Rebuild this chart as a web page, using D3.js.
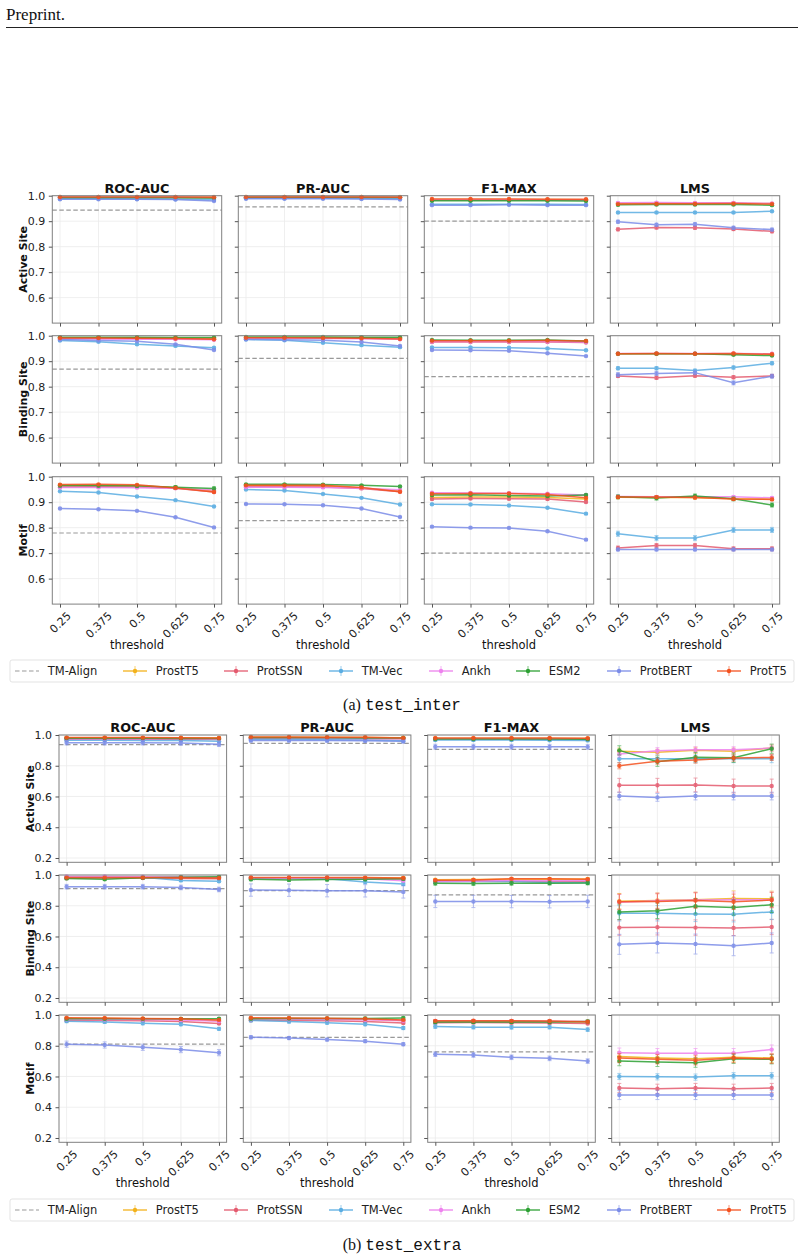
<!DOCTYPE html>
<html>
<head>
<meta charset="utf-8">
<script src="https://cdn.jsdelivr.net/npm/d3@7"></script>
<style>
  body { margin: 0; background: #fff; }
  text { font-family: "DejaVu Sans", sans-serif; }
</style>
</head>
<body>
<script>
// thresholds on the x axis, shared by every panel
const thresholds = [0.25, 0.375, 0.5, 0.625, 0.75];
const models = ["ProstT5", "ProtSSN", "TM-Vec", "Ankh", "ESM2", "ProtBERT", "ProtT5"];
const metrics = ["ROC-AUC", "PR-AUC", "F1-MAX", "LMS"];
const tasks = ["Active Site", "Binding Site", "Motif"];
const colors = {
    "ProstT5": "#f3b21b", "ProtSSN": "#e45a6e", "TM-Vec": "#5aade2", "Ankh": "#ee82ee",
    "ESM2": "#2ca033", "ProtBERT": "#7b8ce8", "ProtT5": "#f4511e"
};
const legendNames = ["TM-Align"].concat(models);

// ---- test_inter ----
const interActive = {
    "ROC-AUC": { "ProstT5": [0.995, 0.995, 0.995, 0.995, 0.995], "ProtSSN": [0.993, 0.993, 0.993, 0.993, 0.992], "TM-Vec": [0.988, 0.988, 0.987, 0.986, 0.984], "Ankh": [0.994, 0.994, 0.994, 0.994, 0.993], "ESM2": [0.992, 0.992, 0.992, 0.992, 0.991], "ProtBERT": [0.986, 0.986, 0.986, 0.985, 0.979], "ProtT5": [0.995, 0.995, 0.995, 0.995, 0.994] },
    "PR-AUC": { "ProstT5": [0.995, 0.995, 0.995, 0.995, 0.995], "ProtSSN": [0.993, 0.993, 0.993, 0.993, 0.993], "TM-Vec": [0.990, 0.990, 0.990, 0.989, 0.988], "Ankh": [0.994, 0.994, 0.994, 0.994, 0.994], "ESM2": [0.993, 0.993, 0.993, 0.993, 0.993], "ProtBERT": [0.988, 0.988, 0.988, 0.987, 0.985], "ProtT5": [0.995, 0.995, 0.995, 0.995, 0.994] },
    "F1-MAX": { "ProstT5": [0.985, 0.985, 0.985, 0.985, 0.984], "ProtSSN": [0.983, 0.983, 0.983, 0.983, 0.982], "TM-Vec": [0.966, 0.966, 0.966, 0.966, 0.965], "Ankh": [0.984, 0.984, 0.984, 0.984, 0.983], "ESM2": [0.980, 0.980, 0.980, 0.980, 0.979], "ProtBERT": [0.963, 0.963, 0.964, 0.963, 0.963], "ProtT5": [0.987, 0.987, 0.987, 0.986, 0.986] },
    "LMS": { "ProstT5": [0.970, 0.971, 0.971, 0.971, 0.969], "ProtSSN": [0.868, 0.875, 0.874, 0.869, 0.860], "TM-Vec": [0.934, 0.934, 0.934, 0.934, 0.939], "Ankh": [0.972, 0.973, 0.972, 0.972, 0.970], "ESM2": [0.964, 0.965, 0.965, 0.965, 0.963], "ProtBERT": [0.898, 0.886, 0.888, 0.874, 0.867], "ProtT5": [0.967, 0.968, 0.968, 0.969, 0.967] }
};
const interBinding = {
    "ROC-AUC": { "ProstT5": [0.992, 0.992, 0.992, 0.991, 0.990], "ProtSSN": [0.989, 0.989, 0.989, 0.988, 0.986], "TM-Vec": [0.981, 0.976, 0.966, 0.960, 0.953], "Ankh": [0.987, 0.987, 0.986, 0.986, 0.984], "ESM2": [0.994, 0.994, 0.994, 0.993, 0.993], "ProtBERT": [0.985, 0.981, 0.978, 0.966, 0.944], "ProtT5": [0.991, 0.991, 0.990, 0.989, 0.986] },
    "PR-AUC": { "ProstT5": [0.993, 0.993, 0.993, 0.992, 0.990], "ProtSSN": [0.991, 0.991, 0.991, 0.990, 0.988], "TM-Vec": [0.985, 0.982, 0.972, 0.963, 0.955], "Ankh": [0.990, 0.990, 0.989, 0.988, 0.986], "ESM2": [0.995, 0.995, 0.995, 0.994, 0.994], "ProtBERT": [0.986, 0.984, 0.982, 0.975, 0.960], "ProtT5": [0.992, 0.992, 0.991, 0.990, 0.987] },
    "F1-MAX": { "ProstT5": [0.979, 0.979, 0.979, 0.979, 0.977], "ProtSSN": [0.975, 0.975, 0.975, 0.975, 0.973], "TM-Vec": [0.954, 0.954, 0.953, 0.950, 0.943], "Ankh": [0.977, 0.977, 0.977, 0.977, 0.975], "ESM2": [0.983, 0.982, 0.982, 0.983, 0.979], "ProtBERT": [0.944, 0.943, 0.941, 0.931, 0.920], "ProtT5": [0.980, 0.980, 0.980, 0.981, 0.979] },
    "LMS": { "ProstT5": [0.929, 0.929, 0.929, 0.929, 0.928], "ProtSSN": [0.842, 0.835, 0.843, 0.837, 0.842], "TM-Vec": [0.872, 0.872, 0.863, 0.875, 0.892], "Ankh": [0.930, 0.930, 0.930, 0.930, 0.929], "ESM2": [0.929, 0.929, 0.929, 0.925, 0.922], "ProtBERT": [0.847, 0.852, 0.855, 0.815, 0.841], "ProtT5": [0.929, 0.930, 0.929, 0.930, 0.927] }
};
const interMotif = {
    "ROC-AUC": { "ProstT5": [0.965, 0.965, 0.964, 0.957, 0.945], "ProtSSN": [0.960, 0.961, 0.960, 0.955, 0.940], "TM-Vec": [0.943, 0.938, 0.922, 0.908, 0.883], "Ankh": [0.958, 0.958, 0.957, 0.955, 0.948], "ESM2": [0.965, 0.965, 0.964, 0.959, 0.954], "ProtBERT": [0.875, 0.872, 0.866, 0.841, 0.801], "ProtT5": [0.969, 0.970, 0.968, 0.956, 0.940] },
    "PR-AUC": { "ProstT5": [0.964, 0.964, 0.963, 0.956, 0.944], "ProtSSN": [0.961, 0.961, 0.960, 0.954, 0.941], "TM-Vec": [0.950, 0.946, 0.932, 0.917, 0.891], "Ankh": [0.959, 0.959, 0.958, 0.955, 0.949], "ESM2": [0.970, 0.970, 0.969, 0.966, 0.962], "ProtBERT": [0.893, 0.892, 0.888, 0.875, 0.842], "ProtT5": [0.966, 0.966, 0.966, 0.958, 0.941] },
    "F1-MAX": { "ProstT5": [0.918, 0.920, 0.920, 0.918, 0.912], "ProtSSN": [0.912, 0.914, 0.913, 0.912, 0.901], "TM-Vec": [0.892, 0.891, 0.887, 0.878, 0.855], "Ankh": [0.937, 0.936, 0.935, 0.933, 0.928], "ESM2": [0.928, 0.929, 0.926, 0.924, 0.928], "ProtBERT": [0.804, 0.800, 0.799, 0.786, 0.753], "ProtT5": [0.933, 0.934, 0.934, 0.930, 0.917] },
    "LMS": { "ProstT5": [0.919, 0.918, 0.918, 0.913, 0.912], "ProtSSN": [0.720, 0.730, 0.730, 0.717, 0.717], "TM-Vec": [0.776, 0.759, 0.759, 0.791, 0.791], "Ankh": [0.922, 0.921, 0.921, 0.921, 0.917], "ESM2": [0.921, 0.916, 0.924, 0.913, 0.889], "ProtBERT": [0.714, 0.714, 0.714, 0.714, 0.714], "ProtT5": [0.920, 0.920, 0.918, 0.912, 0.911] }
};
// TM-Align baseline per task: ROC-AUC, PR-AUC, F1-MAX, LMS (none)
const interTMAlign = { "Active Site": [0.943, 0.956, 0.900, null], "Binding Site": [0.869, 0.911, 0.839, null], "Motif": [0.779, 0.828, 0.700, null] };
// error bar half-heights, model order as in `models`
const interErr = {
    "Active Site": { "ROC-AUC": [.001, .001, .002, .001, .001, .002, .001], "PR-AUC": [.001, .001, .002, .001, .001, .002, .001], "F1-MAX": [.002, .002, .002, .002, .002, .002, .002], "LMS": [.004, .006, .003, .003, .004, .006, .004] },
    "Binding Site": { "ROC-AUC": [.001, .001, .003, .001, .001, .003, .001], "PR-AUC": [.001, .001, .003, .001, .001, .003, .001], "F1-MAX": [.002, .003, .003, .002, .002, .003, .002], "LMS": [.003, .006, .006, .003, .003, .008, .003] },
    "Motif": { "ROC-AUC": [.003, .003, .002, .003, .006, .002, .003], "PR-AUC": [.003, .003, .002, .003, .003, .002, .003], "F1-MAX": [.004, .004, .003, .004, .004, .003, .004], "LMS": [.005, .008, .010, .005, .008, .005, .005] }
};

// ---- test_extra ----
const extraActive = {
    "ROC-AUC": { "ProstT5": [0.982, 0.982, 0.981, 0.981, 0.980], "ProtSSN": [0.973, 0.973, 0.973, 0.972, 0.970], "TM-Vec": [0.966, 0.966, 0.965, 0.965, 0.960], "Ankh": [0.976, 0.976, 0.976, 0.975, 0.974], "ESM2": [0.979, 0.979, 0.979, 0.978, 0.978], "ProtBERT": [0.950, 0.950, 0.950, 0.948, 0.940], "ProtT5": [0.983, 0.983, 0.983, 0.982, 0.981] },
    "PR-AUC": { "ProstT5": [0.985, 0.985, 0.985, 0.984, 0.982], "ProtSSN": [0.977, 0.977, 0.977, 0.976, 0.975], "TM-Vec": [0.970, 0.970, 0.969, 0.968, 0.962], "Ankh": [0.979, 0.979, 0.979, 0.978, 0.977], "ESM2": [0.982, 0.982, 0.982, 0.981, 0.980], "ProtBERT": [0.965, 0.965, 0.964, 0.963, 0.959], "ProtT5": [0.987, 0.987, 0.986, 0.985, 0.981] },
    "F1-MAX": { "ProstT5": [0.978, 0.978, 0.978, 0.978, 0.977], "ProtSSN": [0.972, 0.972, 0.972, 0.972, 0.971], "TM-Vec": [0.967, 0.967, 0.967, 0.966, 0.965], "Ankh": [0.975, 0.975, 0.975, 0.975, 0.974], "ESM2": [0.974, 0.974, 0.974, 0.974, 0.973], "ProtBERT": [0.924, 0.924, 0.924, 0.923, 0.923], "ProtT5": [0.980, 0.980, 0.980, 0.980, 0.979] },
    "LMS": { "ProstT5": [0.895, 0.887, 0.900, 0.895, 0.915], "ProtSSN": [0.673, 0.673, 0.675, 0.668, 0.668], "TM-Vec": [0.845, 0.845, 0.845, 0.845, 0.845], "Ankh": [0.876, 0.898, 0.904, 0.904, 0.915], "ESM2": [0.900, 0.826, 0.856, 0.852, 0.911], "ProtBERT": [0.603, 0.594, 0.603, 0.603, 0.603], "ProtT5": [0.800, 0.830, 0.837, 0.850, 0.854] }
};
const extraBinding = {
    "ROC-AUC": { "ProstT5": [0.983, 0.984, 0.984, 0.983, 0.982], "ProtSSN": [0.979, 0.980, 0.980, 0.978, 0.976], "TM-Vec": [0.985, 0.985, 0.985, 0.965, 0.959], "Ankh": [0.990, 0.990, 0.989, 0.988, 0.986], "ESM2": [0.978, 0.972, 0.982, 0.985, 0.988], "ProtBERT": [0.924, 0.924, 0.924, 0.919, 0.906], "ProtT5": [0.983, 0.983, 0.983, 0.982, 0.980] },
    "PR-AUC": { "ProstT5": [0.982, 0.982, 0.982, 0.981, 0.980], "ProtSSN": [0.978, 0.978, 0.978, 0.976, 0.974], "TM-Vec": [0.978, 0.978, 0.976, 0.954, 0.941], "Ankh": [0.980, 0.980, 0.980, 0.975, 0.963], "ESM2": [0.972, 0.968, 0.970, 0.972, 0.975], "ProtBERT": [0.902, 0.901, 0.898, 0.897, 0.890], "ProtT5": [0.984, 0.984, 0.984, 0.983, 0.980] },
    "F1-MAX": { "ProstT5": [0.969, 0.970, 0.973, 0.972, 0.974], "ProtSSN": [0.960, 0.961, 0.960, 0.958, 0.960], "TM-Vec": [0.958, 0.958, 0.957, 0.952, 0.950], "Ankh": [0.956, 0.960, 0.964, 0.963, 0.965], "ESM2": [0.946, 0.945, 0.946, 0.947, 0.948], "ProtBERT": [0.828, 0.828, 0.827, 0.826, 0.828], "ProtT5": [0.966, 0.968, 0.976, 0.975, 0.972] },
    "LMS": { "ProstT5": [0.830, 0.834, 0.839, 0.847, 0.845], "ProtSSN": [0.658, 0.660, 0.658, 0.656, 0.662], "TM-Vec": [0.751, 0.751, 0.747, 0.745, 0.760], "Ankh": [0.823, 0.832, 0.837, 0.839, 0.839], "ESM2": [0.760, 0.767, 0.797, 0.789, 0.806], "ProtBERT": [0.549, 0.558, 0.551, 0.540, 0.558], "ProtT5": [0.826, 0.828, 0.834, 0.826, 0.837] }
};
const extraMotif = {
    "ROC-AUC": { "ProstT5": [0.978, 0.977, 0.975, 0.972, 0.962], "ProtSSN": [0.965, 0.964, 0.962, 0.958, 0.945], "TM-Vec": [0.960, 0.955, 0.946, 0.940, 0.910], "Ankh": [0.972, 0.971, 0.970, 0.968, 0.960], "ESM2": [0.975, 0.975, 0.975, 0.975, 0.976], "ProtBERT": [0.810, 0.805, 0.790, 0.775, 0.755], "ProtT5": [0.982, 0.980, 0.978, 0.975, 0.968] },
    "PR-AUC": { "ProstT5": [0.978, 0.977, 0.976, 0.973, 0.965], "ProtSSN": [0.966, 0.964, 0.962, 0.958, 0.948], "TM-Vec": [0.965, 0.957, 0.950, 0.940, 0.915], "Ankh": [0.972, 0.972, 0.971, 0.969, 0.962], "ESM2": [0.976, 0.977, 0.977, 0.978, 0.980], "ProtBERT": [0.855, 0.850, 0.840, 0.830, 0.810], "ProtT5": [0.982, 0.981, 0.979, 0.976, 0.968] },
    "F1-MAX": { "ProstT5": [0.958, 0.960, 0.960, 0.958, 0.955], "ProtSSN": [0.950, 0.951, 0.950, 0.948, 0.945], "TM-Vec": [0.925, 0.921, 0.920, 0.921, 0.905], "Ankh": [0.962, 0.962, 0.962, 0.960, 0.957], "ESM2": [0.955, 0.955, 0.955, 0.955, 0.958], "ProtBERT": [0.745, 0.740, 0.725, 0.718, 0.700], "ProtT5": [0.962, 0.963, 0.962, 0.961, 0.956] },
    "LMS": { "ProstT5": [0.730, 0.720, 0.715, 0.725, 0.720], "ProtSSN": [0.525, 0.520, 0.525, 0.520, 0.525], "TM-Vec": [0.600, 0.598, 0.596, 0.605, 0.605], "Ankh": [0.755, 0.752, 0.752, 0.752, 0.775], "ESM2": [0.700, 0.695, 0.690, 0.715, 0.712], "ProtBERT": [0.480, 0.480, 0.480, 0.480, 0.480], "ProtT5": [0.720, 0.712, 0.705, 0.720, 0.715] }
};
const extraTMAlign = { "Active Site": [0.937, 0.946, 0.906, null], "Binding Site": [0.911, 0.898, 0.871, null], "Motif": [0.810, 0.855, 0.760, null] };
const extraErr = {
    "Active Site": { "ROC-AUC": [.004, .006, .008, .005, .005, .015, .004], "PR-AUC": [.003, .005, .008, .004, .004, .012, .003], "F1-MAX": [.004, .005, .008, .004, .005, .016, .004], "LMS": [.02, .045, .025, .02, .03, .025, .02] },
    "Binding Site": { "ROC-AUC": [.004, .006, .008, .005, .008, .015, .004], "PR-AUC": [.005, .006, .01, .006, .01, .04, .005], "F1-MAX": [.006, .008, .008, .008, .012, .04, .006], "LMS": [.05, .05, .05, .05, .05, .065, .05] },
    "Motif": { "ROC-AUC": [.004, .006, .01, .005, .008, .02, .004], "PR-AUC": [.004, .006, .01, .005, .008, .01, .004], "F1-MAX": [.006, .008, .012, .008, .01, .015, .006], "LMS": [.03, .03, .02, .03, .03, .03, .03] }
};

const svg = d3.select("body").append("svg")
    .attr("width", 804)
    .attr("height", 1259);

// page header
svg.append("text").attr("x", 6).attr("y", 20)
    .style("font-family", "'Liberation Serif', serif").attr("font-size", 17).attr("fill", "#111")
    .text("Preprint.");
svg.append("line").attr("x1", 6).attr("x2", 798).attr("y1", 27.5).attr("y2", 27.5)
    .attr("stroke", "#222").attr("stroke-width", 1.2);

function drawBlock(L, data, tmAlign, errs) {
    const x = d3.scaleLinear().domain([0.225, 0.775]).range([0, L.w]);
    const y = d3.scaleLinear().domain(L.ydom).range([L.h, 0]);
    const tickFs = 11;

    tasks.forEach((task, r) => {
        metrics.forEach((metric, c) => {
            const g = svg.append("g").attr("transform", `translate(${L.lefts[c]},${L.tops[r]})`);

            // grid
            g.append("g").selectAll("line").data(thresholds).join("line")
                .attr("x1", d => x(d)).attr("x2", d => x(d)).attr("y1", 0).attr("y2", L.h)
                .attr("stroke", "#ebebeb").attr("stroke-width", 0.8);
            g.append("g").selectAll("line").data(L.yticks).join("line")
                .attr("x1", 0).attr("x2", L.w).attr("y1", d => y(d)).attr("y2", d => y(d))
                .attr("stroke", "#ebebeb").attr("stroke-width", 0.8);

            // TM-Align baseline
            const tm = tmAlign[task][c];
            if (tm != null) {
                g.append("line").attr("x1", 0).attr("x2", L.w).attr("y1", y(tm)).attr("y2", y(tm))
                    .attr("stroke", "#999").attr("stroke-width", 1.2).attr("stroke-dasharray", "4.5,2.5");
            }

            models.forEach((m, k) => {
                const e = errs[task][metric][k];
                const pts = data[task][metric][m].map((v, i) => ({ t: thresholds[i], v: v }));
                const col = colors[m];
                const eg = g.append("g").attr("opacity", 0.55);
                eg.selectAll("line.bar").data(pts).join("line")
                    .attr("x1", d => x(d.t)).attr("x2", d => x(d.t))
                    .attr("y1", d => y(d.v - e)).attr("y2", d => y(d.v + e))
                    .attr("stroke", col).attr("stroke-width", 1);
                [-1, 1].forEach(s => {
                    eg.append("g").selectAll("line").data(pts).join("line")
                        .attr("x1", d => x(d.t) - 2).attr("x2", d => x(d.t) + 2)
                        .attr("y1", d => y(d.v + s * e)).attr("y2", d => y(d.v + s * e))
                        .attr("stroke", col).attr("stroke-width", 1);
                });
                const sg = g.append("g").attr("opacity", 0.85);
                sg.append("path").datum(pts)
                    .attr("d", d3.line().x(d => x(d.t)).y(d => y(d.v)))
                    .attr("fill", "none").attr("stroke", col).attr("stroke-width", 1.5);
                sg.selectAll("circle").data(pts).join("circle")
                    .attr("cx", d => x(d.t)).attr("cy", d => y(d.v)).attr("r", 2.2)
                    .attr("fill", col);
            });

            // frame
            g.append("rect").attr("width", L.w).attr("height", L.h)
                .attr("fill", "none").attr("stroke", "#808080").attr("stroke-width", 1);

            // axes
            const ax = g.append("g").attr("transform", `translate(0,${L.h})`)
                .call(d3.axisBottom(x).tickValues(thresholds).tickSize(3.5)
                    .tickFormat(r === 2 ? d => String(d) : () => ""));
            const ay = g.append("g")
                .call(d3.axisLeft(y).tickValues(L.yticks).tickSize(3.5).tickPadding(3.5)
                    .tickFormat(c === 0 ? d3.format(".1f") : () => ""));
            [ax, ay].forEach(a => {
                a.select(".domain").remove();
                a.attr("font-family", "DejaVu Sans").attr("font-size", tickFs);
                a.selectAll(".tick line").attr("stroke", "#555");
                a.selectAll(".tick text").attr("fill", "#222");
            });
            if (r === 2) {
                ax.selectAll(".tick text").each(function() {
                    const w = this.getComputedTextLength();
                    const bh = (w + tickFs * 0.75) * Math.SQRT1_2;
                    d3.select(this).attr("y", 0).attr("dy", null)
                        .attr("dominant-baseline", "central").attr("text-anchor", "middle")
                        .attr("transform", `translate(0,${7 + bh / 2}) rotate(-45)`);
                });
                g.append("text").attr("x", L.w / 2).attr("y", L.h + 40.7)
                    .attr("text-anchor", "middle").attr("dominant-baseline", "central")
                    .attr("font-size", 11.5).attr("fill", "#111").text("threshold");
            }

            if (r === 0) {
                g.append("text").attr("x", L.w / 2).attr("y", -7.7)
                    .attr("text-anchor", "middle").attr("dominant-baseline", "central")
                    .attr("font-size", 12.8).attr("font-weight", "bold").attr("fill", "#111")
                    .text(metric);
            }
            if (c === 0) {
                g.append("text")
                    .attr("transform", `translate(${L.ylabelX - L.lefts[0]},${L.h / 2}) rotate(-90)`)
                    .attr("text-anchor", "middle").attr("dominant-baseline", "central")
                    .attr("font-size", 11).attr("font-weight", "bold").attr("fill", "#111")
                    .text(task);
            }
        });
    });

    drawLegend(L.legendY);
    drawCaption(L.captionY, L.tag, L.name);
}

// legend handle starts
const legendX = [15, 123, 224, 329, 429, 516, 607, 717];

function drawLegend(top) {
    const lg = svg.append("g");
    lg.append("rect").attr("x", 10).attr("y", top).attr("width", 784).attr("height", 22)
        .attr("rx", 2).attr("fill", "#fff").attr("stroke", "#dcdcdc").attr("stroke-width", 0.8);
    const cy = top + 11;
    legendNames.forEach((name, i) => {
        const xPos = legendX[i];
        if (name === "TM-Align") {
            lg.append("line").attr("x1", xPos).attr("x2", xPos + 24).attr("y1", cy).attr("y2", cy)
                .attr("stroke", "#999").attr("stroke-width", 1.2).attr("stroke-dasharray", "4.5,2.5");
        } else {
            const col = colors[name];
            lg.append("line").attr("x1", xPos).attr("x2", xPos + 24).attr("y1", cy).attr("y2", cy)
                .attr("stroke", col).attr("stroke-width", 1.5).attr("opacity", 0.85);
            lg.append("line").attr("x1", xPos + 12).attr("x2", xPos + 12).attr("y1", cy - 5).attr("y2", cy + 5)
                .attr("stroke", col).attr("stroke-width", 1).attr("opacity", 0.6);
            lg.append("circle").attr("cx", xPos + 12).attr("cy", cy).attr("r", 2.2).attr("fill", col);
        }
        lg.append("text").attr("x", xPos + 32.7).attr("y", cy)
            .attr("dominant-baseline", "central").attr("font-size", 11.5).attr("fill", "#222")
            .text(name);
    });
}

function drawCaption(yBase, tag, name) {
    const t = svg.append("text").attr("x", 402).attr("y", yBase).attr("text-anchor", "middle").attr("fill", "#111");
    t.append("tspan").style("font-family", "'Liberation Serif', serif").attr("font-size", 16).text(tag + " ");
    t.append("tspan").style("font-family", "'Liberation Mono', monospace").attr("font-size", 16).text(name);
}

drawBlock({
    lefts: [52.3, 238.3, 424.3, 610.3], w: 169.4, tops: [195.7, 335.7, 476.7], h: 127.4,
    ydom: [0.5, 1.0], yticks: [0.6, 0.7, 0.8, 0.9, 1.0], ylabelX: 23.3,
    legendY: 660, captionY: 710, tag: "(a)", name: "test_inter"
}, { "Active Site": interActive, "Binding Site": interBinding, "Motif": interMotif }, interTMAlign, interErr);

drawBlock({
    lefts: [59, 243.3, 427.7, 611.7], w: 167.6, tops: [735, 875, 1015], h: 127.3,
    ydom: [0.172, 1.0], yticks: [0.2, 0.4, 0.6, 0.8, 1.0], ylabelX: 30,
    legendY: 1199, captionY: 1250, tag: "(b)", name: "test_extra"
}, { "Active Site": extraActive, "Binding Site": extraBinding, "Motif": extraMotif }, extraTMAlign, extraErr);
</script>
</body>
</html>
